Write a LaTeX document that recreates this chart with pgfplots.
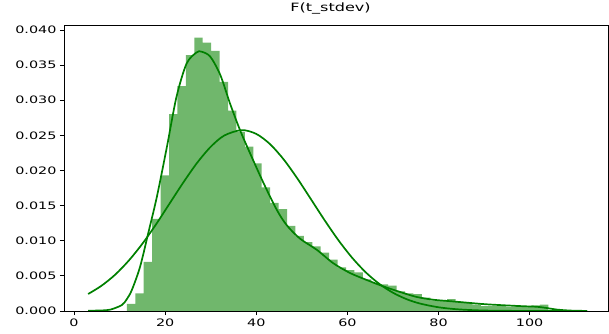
\documentclass[border=0pt]{standalone}
\usepackage{fontspec}
\setmainfont{DejaVu Sans}
\usepackage{graphicx}
\usepackage{pgfplots}
\pgfplotsset{compat=1.18}
\definecolor{linegreen}{RGB}{0,128,0}
\definecolor{barfill}{RGB}{112,183,108}
\begin{document}
\begin{tikzpicture}
\path[use as bounding box] (-64bp,-23bp) rectangle (545bp,311bp);
\begin{axis}[
  at={(0,0)}, anchor=south west,
  scale only axis, width=544bp, height=286bp,
  xmin=-2.2, xmax=117.2, ymin=0, ymax=0.0407,
  xtick={0,20,40,60,80,100},
  ytick={0,0.005,0.010,0.015,0.020,0.025,0.030,0.035,0.040},
  scaled y ticks=false,
  /pgf/number format/assume math mode=true,
  yticklabel={\scalebox{1.4}[1]{\pgfmathprintnumber[fixed,fixed zerofill,precision=3]{\tick}}},
  xticklabel={\scalebox{1.4}[1]{\pgfmathprintnumber{\tick}}},
  every tick label/.append style={font=\fontsize{10.3}{12}\selectfont, text=black},
  tick align=outside, xtick pos=left, ytick pos=left,
  major tick length=4bp,
  every tick/.style={black, line width=0.8bp},
  axis line style={black, line width=0.8bp},
  title={\scalebox{1.4}[1]{F(t\_stdev)}},
  title style={font=\fontsize{11.5}{13}\selectfont, at={(0.49,1)}, anchor=south, yshift=1bp},
]
\addplot[ybar interval, fill=barfill, draw=none] coordinates {
(11.60,0.0010) (13.45,0.0025) (15.30,0.0070) (17.15,0.0131) (19.00,0.0193)
(20.85,0.0280) (22.70,0.0320) (24.55,0.0364) (26.40,0.0389) (28.25,0.0382)
(30.10,0.0370) (31.95,0.0326) (33.80,0.0285) (35.65,0.0255) (37.50,0.0234)
(39.35,0.0210) (41.20,0.0176) (43.05,0.0154) (44.90,0.0145) (46.75,0.0121)
(48.60,0.0107) (50.45,0.0098) (52.30,0.0092) (54.15,0.0083) (56.00,0.0073)
(57.85,0.0062) (59.70,0.0058) (61.55,0.0055) (63.40,0.0045) (65.25,0.0040)
(67.10,0.0038) (68.95,0.0036) (70.80,0.0028) (72.65,0.0025) (74.50,0.0024)
(76.35,0.0019) (78.20,0.0015) (80.05,0.0014) (81.90,0.0017) (83.75,0.0013)
(85.60,0.0012) (87.45,0.0009) (89.30,0.0007) (91.15,0.0007) (93.00,0.0007)
(94.85,0.0006) (96.70,0.0007) (98.55,0.0007) (100.40,0.0008) (102.25,0.0009)
(104.10,0.0009)
};
% KDE
\addplot[linegreen, line width=1.7bp, smooth, tension=0.5] coordinates {
(3.1,0.00004) (6,0.00008) (8,0.0002) (10.5,0.00085) (11.6,0.0017) (12.7,0.003)
(14.5,0.0063) (16.3,0.0111) (18.2,0.0163) (20.4,0.0234) (22.5,0.0305)
(24.7,0.0352) (26.9,0.0368) (28.0,0.0369) (29.9,0.0362) (32.1,0.0336)
(34.2,0.0296) (36.4,0.0258) (38.6,0.0225) (41.6,0.0182) (44.5,0.0144)
(46.7,0.0122) (49.6,0.0103) (53.3,0.0087) (56.9,0.0068) (60.6,0.0054)
(64.3,0.0044) (67.9,0.0035) (71.6,0.0027) (75.2,0.0020) (78.9,0.0016)
(82.5,0.0014) (86,0.0012) (90.6,0.00095) (97.9,0.0007) (101.6,0.0006)
(104,0.0004) (106,0.0002) (109,0.00006) (112.6,0.00001)
};
% normal fit
\addplot[linegreen, line width=1.7bp, smooth, tension=0.5] coordinates {
(3.1,0.00242) (6,0.00358) (9,0.00515) (12,0.00716) (15,0.00957) (18,0.01233)
(21,0.01532) (24,0.01830) (27,0.02107) (30,0.02337) (33,0.02498) (36.8,0.02574)
(40,0.02520) (43,0.02376) (46,0.02158) (49,0.01888) (52,0.01591) (55,0.01292)
(58,0.01010) (61,0.00761) (64,0.00552) (67,0.00386) (70,0.00260) (73,0.00168)
(76,0.00105) (80,0.00053) (84,0.00025) (88,0.00011) (92,0.000045) (100,0.000008)
(112.6,0.0000003)
};
\end{axis}
\end{tikzpicture}
\end{document}
